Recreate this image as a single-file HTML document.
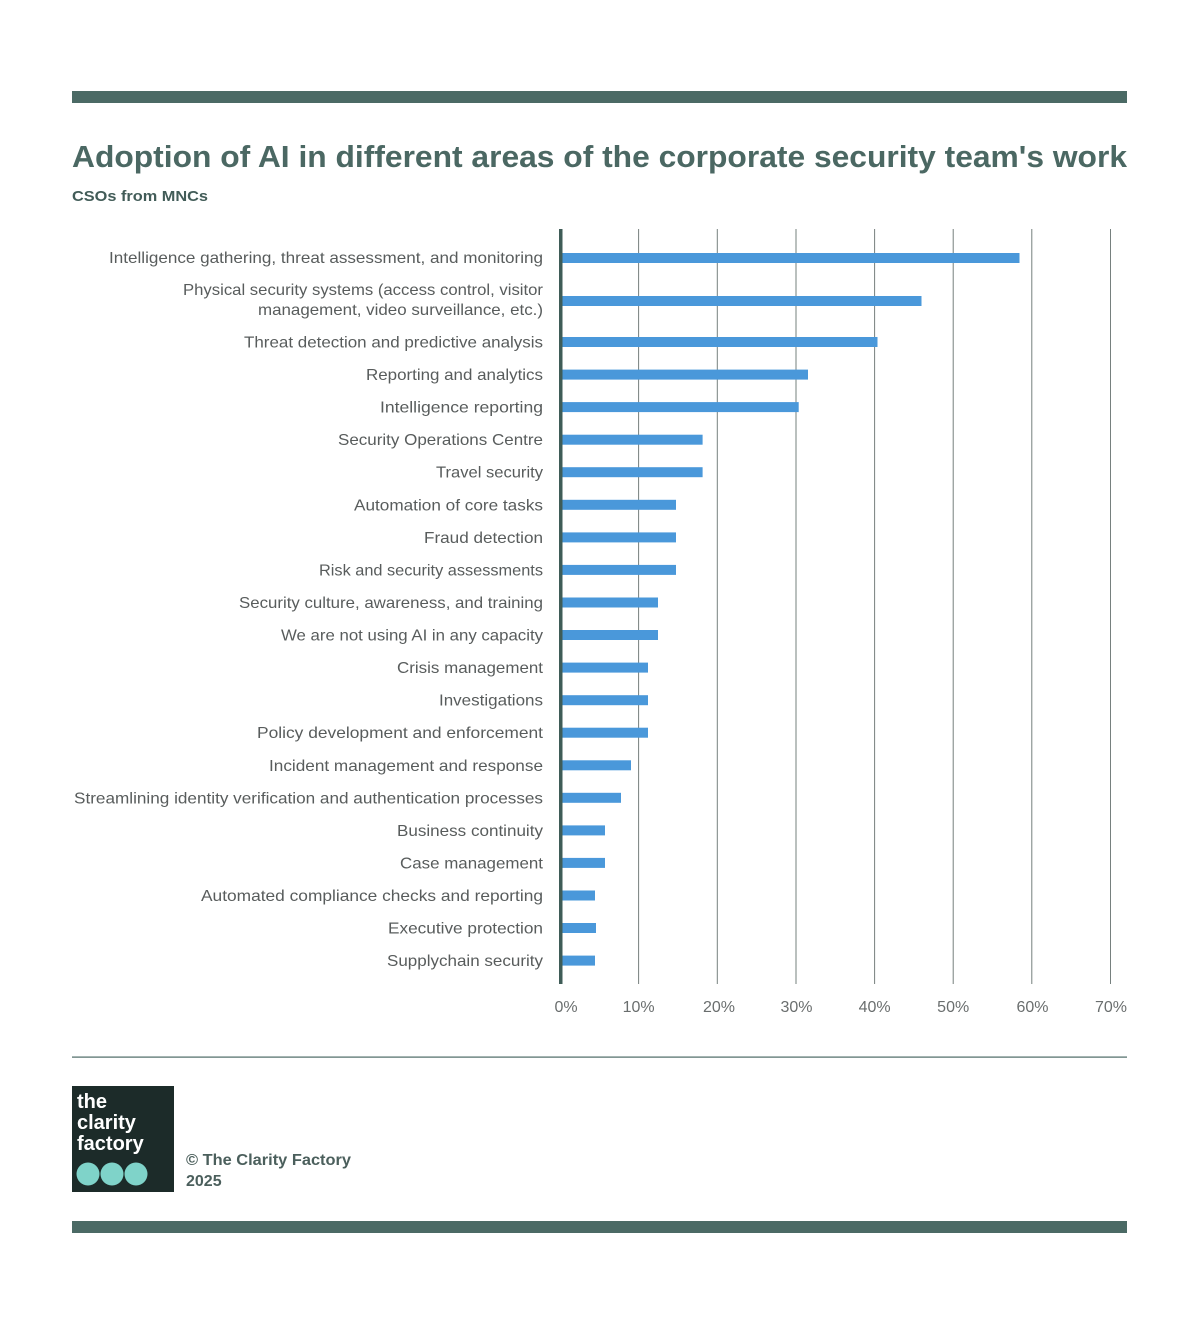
<!DOCTYPE html>
<html><head><meta charset="utf-8"><style>
html,body{margin:0;padding:0;background:#fff;}
svg{display:block;}
.lb{font-family:"Liberation Sans",sans-serif;font-size:16px;fill:#585c5c;}
.tk{font-family:"Liberation Sans",sans-serif;font-size:16px;fill:#6a6e6e;}
</style></head><body>
<svg width="1200" height="1325" viewBox="0 0 1200 1325" xmlns="http://www.w3.org/2000/svg">
<rect x="0" y="0" width="1200" height="1325" fill="#fff"/>
<rect x="72" y="91" width="1055" height="12" fill="#4b6a65"/>
<text x="72" y="167" font-family="Liberation Sans, sans-serif" font-size="31" font-weight="bold" fill="#4b6863" textLength="1055" lengthAdjust="spacingAndGlyphs">Adoption of AI in different areas of the corporate security team's work</text>
<text x="72" y="201" font-family="Liberation Sans, sans-serif" font-size="15" font-weight="bold" fill="#425c58" textLength="136" lengthAdjust="spacingAndGlyphs">CSOs from MNCs</text>

<g stroke="#76807e" stroke-width="1">
<line x1="638.6" y1="229" x2="638.6" y2="984"/>
<line x1="717.3" y1="229" x2="717.3" y2="984"/>
<line x1="796" y1="229" x2="796" y2="984"/>
<line x1="874.6" y1="229" x2="874.6" y2="984"/>
<line x1="953.2" y1="229" x2="953.2" y2="984"/>
<line x1="1031.8" y1="229" x2="1031.8" y2="984"/>
<line x1="1110.5" y1="229" x2="1110.5" y2="984"/>
</g>

<g fill="#4a98da">
<rect x="562" y="253" width="457.5" height="10"/>
<rect x="562" y="296" width="359.5" height="10"/>
<rect x="562" y="337" width="315.5" height="10"/>
<rect x="562" y="369.6" width="246" height="10"/>
<rect x="562" y="402.1" width="236.7" height="10"/>
<rect x="562" y="434.7" width="140.6" height="10"/>
<rect x="562" y="467.2" width="140.6" height="10"/>
<rect x="562" y="499.8" width="114" height="10"/>
<rect x="562" y="532.4" width="114" height="10"/>
<rect x="562" y="564.9" width="114" height="10"/>
<rect x="562" y="597.5" width="96" height="10"/>
<rect x="562" y="630" width="96" height="10"/>
<rect x="562" y="662.6" width="86" height="10"/>
<rect x="562" y="695.2" width="86" height="10"/>
<rect x="562" y="727.7" width="86" height="10"/>
<rect x="562" y="760.3" width="69" height="10"/>
<rect x="562" y="792.8" width="59" height="10"/>
<rect x="562" y="825.4" width="43" height="10"/>
<rect x="562" y="857.9" width="43" height="10"/>
<rect x="562" y="890.5" width="33" height="10"/>
<rect x="562" y="923" width="34" height="10"/>
<rect x="562" y="955.6" width="33" height="10"/>
</g>
<rect x="559" y="229" width="3.5" height="755" fill="#3f5c57"/>

<g text-anchor="end">
<text class="lb" x="543" y="263" textLength="434" lengthAdjust="spacingAndGlyphs">Intelligence gathering, threat assessment, and monitoring</text>
<text class="lb" x="543" y="295" textLength="360" lengthAdjust="spacingAndGlyphs">Physical security systems (access control, visitor</text>
<text class="lb" x="543" y="315" textLength="285" lengthAdjust="spacingAndGlyphs">management, video surveillance, etc.)</text>
<text class="lb" x="543" y="347.5" textLength="299" lengthAdjust="spacingAndGlyphs">Threat detection and predictive analysis</text>
<text class="lb" x="543" y="380.1" textLength="177" lengthAdjust="spacingAndGlyphs">Reporting and analytics</text>
<text class="lb" x="543" y="412.6" textLength="163" lengthAdjust="spacingAndGlyphs">Intelligence reporting</text>
<text class="lb" x="543" y="445.2" textLength="205" lengthAdjust="spacingAndGlyphs">Security Operations Centre</text>
<text class="lb" x="543" y="477.7" textLength="107" lengthAdjust="spacingAndGlyphs">Travel security</text>
<text class="lb" x="543" y="510.3" textLength="189" lengthAdjust="spacingAndGlyphs">Automation of core tasks</text>
<text class="lb" x="543" y="542.9" textLength="119" lengthAdjust="spacingAndGlyphs">Fraud detection</text>
<text class="lb" x="543" y="575.4" textLength="224" lengthAdjust="spacingAndGlyphs">Risk and security assessments</text>
<text class="lb" x="543" y="608" textLength="304" lengthAdjust="spacingAndGlyphs">Security culture, awareness, and training</text>
<text class="lb" x="543" y="640.5" textLength="262" lengthAdjust="spacingAndGlyphs">We are not using AI in any capacity</text>
<text class="lb" x="543" y="673.1" textLength="146" lengthAdjust="spacingAndGlyphs">Crisis management</text>
<text class="lb" x="543" y="705.7" textLength="104" lengthAdjust="spacingAndGlyphs">Investigations</text>
<text class="lb" x="543" y="738.2" textLength="286" lengthAdjust="spacingAndGlyphs">Policy development and enforcement</text>
<text class="lb" x="543" y="770.8" textLength="274" lengthAdjust="spacingAndGlyphs">Incident management and response</text>
<text class="lb" x="543" y="803.3" textLength="469" lengthAdjust="spacingAndGlyphs">Streamlining identity verification and authentication processes</text>
<text class="lb" x="543" y="835.9" textLength="146" lengthAdjust="spacingAndGlyphs">Business continuity</text>
<text class="lb" x="543" y="868.4" textLength="143" lengthAdjust="spacingAndGlyphs">Case management</text>
<text class="lb" x="543" y="901" textLength="342" lengthAdjust="spacingAndGlyphs">Automated compliance checks and reporting</text>
<text class="lb" x="543" y="933.5" textLength="155" lengthAdjust="spacingAndGlyphs">Executive protection</text>
<text class="lb" x="543" y="966.1" textLength="156" lengthAdjust="spacingAndGlyphs">Supplychain security</text>
</g>

<g text-anchor="middle">
<text class="tk" x="566" y="1012">0%</text>
<text class="tk" x="638.6" y="1012">10%</text>
<text class="tk" x="719" y="1012">20%</text>
<text class="tk" x="796.5" y="1012">30%</text>
<text class="tk" x="874.6" y="1012">40%</text>
<text class="tk" x="953.2" y="1012">50%</text>
<text class="tk" x="1032.5" y="1012">60%</text>
<text class="tk" x="1111" y="1012">70%</text>
</g>

<rect x="72" y="1056.5" width="1055" height="1.2" fill="#4b6a65"/>

<rect x="72" y="1086" width="102" height="106" fill="#1c2b29"/>
<g font-family="Liberation Sans, sans-serif" font-size="20" font-weight="bold" fill="#ffffff">
<text x="77" y="1108">the</text>
<text x="77" y="1129">clarity</text>
<text x="77" y="1150">factory</text>
</g>
<g fill="#7fd3c9">
<circle cx="88" cy="1174" r="11.5"/>
<circle cx="112" cy="1174" r="11.5"/>
<circle cx="136" cy="1174" r="11.5"/>
</g>
<text x="186" y="1165" font-family="Liberation Sans, sans-serif" font-size="16" font-weight="bold" fill="#4b5f5c" textLength="165" lengthAdjust="spacingAndGlyphs">© The Clarity Factory</text>
<text x="186" y="1186" font-family="Liberation Sans, sans-serif" font-size="16" font-weight="bold" fill="#4b5f5c">2025</text>

<rect x="72" y="1221" width="1055" height="12" fill="#4b6a65"/>
</svg>
</body></html>
